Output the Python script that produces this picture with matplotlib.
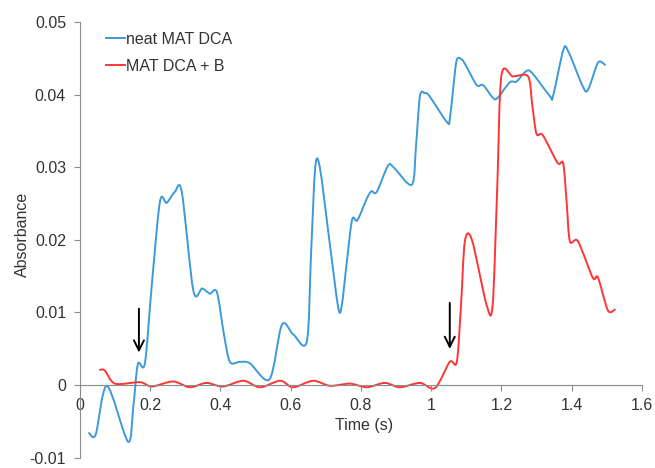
import matplotlib
matplotlib.use("Agg")
import matplotlib.pyplot as plt
from matplotlib.path import Path
from matplotlib.patches import PathPatch

plt.rcParams['font.family'] = ['Liberation Sans', 'DejaVu Sans']

# neat MAT DCA (blue)
blue_t = [0.026, 0.045, 0.077, 0.137, 0.152, 0.165, 0.185,
          0.205, 0.228, 0.247, 0.270, 0.290, 0.323, 0.348, 0.370, 0.390,
          0.410, 0.427, 0.455, 0.484, 0.540, 0.575, 0.607, 0.646,
          0.658, 0.670, 0.683, 0.710, 0.735, 0.745, 0.760, 0.775, 0.790, 0.817,
          0.830, 0.845, 0.877, 0.893, 0.945, 0.957, 0.968, 0.982, 0.995, 1.045,
          1.053, 1.063, 1.073, 1.088, 1.100, 1.130, 1.148, 1.177, 1.190, 1.224, 1.243,
          1.270, 1.287, 1.338, 1.347, 1.376, 1.390, 1.432, 1.447, 1.475, 1.495]
blue_v = [-0.0066, -0.0068, -0.0001, -0.0078, -0.0030, 0.0029, 0.0030,
          0.0140, 0.0253, 0.0251, 0.0266, 0.0266, 0.0130, 0.0133, 0.0126, 0.0128,
          0.0070, 0.0032, 0.0032, 0.0030, 0.0008, 0.0083, 0.0070, 0.0060,
          0.0180, 0.0300, 0.0300, 0.0200, 0.0108, 0.0108, 0.0170, 0.0228, 0.0227, 0.0257,
          0.0267, 0.0266, 0.0302, 0.0300, 0.0276, 0.0330, 0.0398, 0.0402, 0.0398, 0.0362,
          0.0366, 0.0410, 0.0448, 0.0448, 0.0439, 0.0413, 0.0413, 0.0395, 0.0396, 0.0417, 0.0418,
          0.0432, 0.0430, 0.0398, 0.0398, 0.0461, 0.0460, 0.0411, 0.0407, 0.0444, 0.0441]

# MAT DCA + B (red)
red_t = [0.057, 0.071, 0.100, 0.171, 0.205, 0.265, 0.313, 0.360, 0.407, 0.465,
         0.513, 0.570, 0.607, 0.664, 0.712, 0.769, 0.817, 0.868, 0.911, 0.968, 1.011,
         1.053, 1.073, 1.085, 1.096, 1.116, 1.158, 1.175, 1.188, 1.200, 1.233, 1.276,
         1.288, 1.300, 1.318, 1.360, 1.376, 1.386, 1.395, 1.418, 1.460, 1.475, 1.503, 1.523]
red_v = [0.0021, 0.0020, 0.0002, 0.0004, -0.0002, 0.0005, -0.0003, 0.0003, -0.0002, 0.0006,
         -0.0003, 0.0006, -0.0003, 0.0006, -0.0001, 0.0002, -0.0003, 0.0003, -0.0003, 0.0003, -0.0004,
         0.0032, 0.0032, 0.0110, 0.0198, 0.0200, 0.0110, 0.0110, 0.0270, 0.0426, 0.0425, 0.0425,
         0.0385, 0.0346, 0.0344, 0.0306, 0.0305, 0.0250, 0.0198, 0.0198, 0.0148, 0.0148, 0.0103, 0.0104]

series_names = ["neat MAT DCA", "MAT DCA + B"]
arrow_t = [0.168, 1.053]
arrow_top = [0.0109, 0.0117]
arrow_tip = [0.0041, 0.0046]

x_ticks = [0, 0.2, 0.4, 0.6, 0.8, 1.0, 1.2, 1.4, 1.6]
x_labels = ["0", "0.2", "0.4", "0.6", "0.8", "1", "1.2", "1.4", "1.6"]
y_ticks = [-0.01, 0, 0.01, 0.02, 0.03, 0.04, 0.05]
y_labels = ["-0.01", "0", "0.01", "0.02", "0.03", "0.04", "0.05"]

BLUE = "#3d9ad8"
RED = "#ff3535"
GRAY = "#8c8c8c"
TEXT = "#333333"


def smooth_path(xs, ys, k=0.15):
    """Catmull-Rom style Bezier path through the data points (like Excel's smoothed line)."""
    n = len(xs)
    verts = [(xs[0], ys[0])]
    codes = [Path.MOVETO]
    for i in range(n - 1):
        x0, y0 = (xs[i - 1], ys[i - 1]) if i > 0 else (xs[i], ys[i])
        x1, y1 = xs[i], ys[i]
        x2, y2 = xs[i + 1], ys[i + 1]
        x3, y3 = (xs[i + 2], ys[i + 2]) if i + 2 < n else (x2, y2)
        c1 = (x1 + (x2 - x0) * k, y1 + (y2 - y0) * k)
        c2 = (x2 - (x3 - x1) * k, y2 - (y3 - y1) * k)
        verts += [c1, c2, (x2, y2)]
        codes += [Path.CURVE4] * 3
    return Path(verts, codes)


fig = plt.figure(figsize=(6.55, 4.68), dpi=100)
ax = fig.add_axes([0.122, 0.022, 0.858, 0.931])

for xs, ys, c, name in [(blue_t, blue_v, BLUE, series_names[0]), (red_t, red_v, RED, series_names[1])]:
    ax.add_patch(PathPatch(smooth_path(xs, ys), facecolor="none", edgecolor=c, lw=1.4,
                           joinstyle="round", capstyle="round"))
    ax.plot([], [], color=c, lw=1.4, label=name)

for t, y0, y1 in zip(arrow_t, arrow_top, arrow_tip):
    ax.annotate("", xy=(t, y1), xytext=(t, y0),
                arrowprops=dict(arrowstyle="->", color="black", lw=1.4, mutation_scale=18))

ax.set_xlim(0, 1.6)
ax.set_ylim(-0.01, 0.05)
ax.set_xticks(x_ticks)
ax.set_xticklabels(x_labels)
ax.set_yticks(y_ticks)
ax.set_yticklabels(y_labels)

for s in ["top", "right"]:
    ax.spines[s].set_visible(False)
ax.spines["bottom"].set_position(("data", 0))
ax.spines["left"].set_color(GRAY)
ax.spines["bottom"].set_color(GRAY)
ax.tick_params(axis="both", colors=GRAY, labelcolor=TEXT, labelsize=11.5, length=4, direction="out")
ax.tick_params(axis="y", pad=6)
ax.tick_params(axis="x", pad=5)

fig.text(0.035, 0.5, "Absorbance", rotation=90, ha="center", va="center", fontsize=11.5, color=TEXT)
ax.text(0.81, -0.0056, "Time (s)", ha="center", va="center", fontsize=11.5, color=TEXT)

leg = ax.legend(loc="upper left", bbox_to_anchor=(0.02, 1.01), frameon=False, fontsize=11.5,
                handlelength=1.2, handletextpad=0.1, labelspacing=0.75)
for t in leg.get_texts():
    t.set_color(TEXT)

fig.savefig("out.png", dpi=100)
